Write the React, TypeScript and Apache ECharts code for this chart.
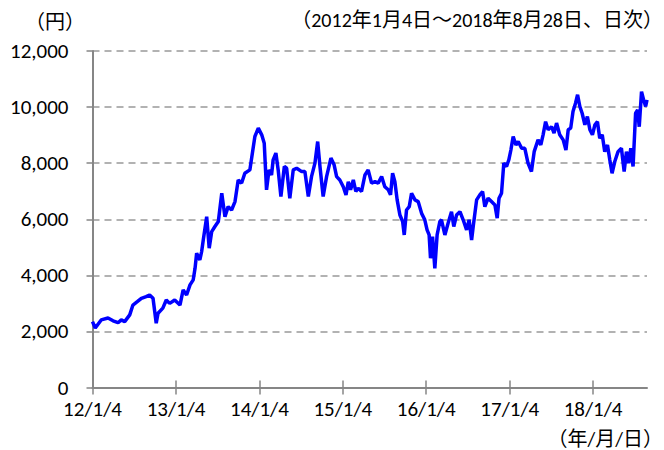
import React, { useEffect, useRef } from "react";
import * as echarts from "echarts";

const dates: string[] = [
  "2012-01-04","2012-01-16","2012-02-11","2012-03-12","2012-04-03","2012-04-25","2012-05-09","2012-05-24",
  "2012-06-15","2012-06-29","2012-07-18","2012-08-05","2012-08-26","2012-09-10","2012-09-25","2012-10-09",
  "2012-10-17","2012-11-07","2012-11-22","2012-12-07","2012-12-29",
  "2013-01-21","2013-02-04","2013-02-19","2013-03-06","2013-03-20","2013-03-28","2013-04-04","2013-04-18",
  "2013-04-26","2013-05-03","2013-05-18","2013-05-29","2013-06-09","2013-06-23","2013-07-08","2013-07-23",
  "2013-08-06","2013-08-20","2013-09-04","2013-09-19","2013-10-03","2013-10-18","2013-11-01","2013-11-23",
  "2013-12-15","2013-12-30",
  "2014-01-14","2014-01-25","2014-02-04","2014-02-15","2014-02-26","2014-03-05","2014-03-17","2014-03-27",
  "2014-04-08","2014-04-23","2014-05-03","2014-05-17","2014-06-01","2014-06-16","2014-07-08","2014-07-22",
  "2014-08-06","2014-08-20","2014-09-04","2014-09-16","2014-09-26","2014-10-10","2014-10-25","2014-11-13",
  "2014-11-27","2014-12-08","2014-12-22",
  "2015-01-06","2015-01-18","2015-01-28","2015-02-07","2015-02-19","2015-03-02","2015-03-12","2015-03-27",
  "2015-04-11","2015-04-25","2015-05-10","2015-05-25","2015-06-08","2015-06-23","2015-07-07","2015-07-22",
  "2015-08-01","2015-08-10","2015-08-20","2015-08-30","2015-09-11","2015-09-23","2015-09-30","2015-10-10",
  "2015-10-22","2015-11-01","2015-11-16","2015-11-30","2015-12-15","2015-12-29",
  "2016-01-08","2016-01-17","2016-01-23","2016-02-01","2016-02-11","2016-02-21","2016-03-04","2016-03-11",
  "2016-03-26","2016-04-09","2016-04-24","2016-05-04","2016-05-16","2016-05-31","2016-06-14","2016-06-29",
  "2016-07-10","2016-07-21","2016-07-28","2016-08-12","2016-08-26","2016-09-07","2016-09-17","2016-10-01",
  "2016-10-16","2016-10-31","2016-11-10","2016-11-18","2016-11-29","2016-12-09","2016-12-21","2016-12-31",
  "2017-01-09","2017-01-19","2017-01-31","2017-02-10","2017-02-25","2017-03-11","2017-03-25","2017-04-09",
  "2017-04-21","2017-05-08","2017-05-20","2017-05-30","2017-06-10","2017-06-21","2017-07-06","2017-07-17",
  "2017-07-28","2017-08-11","2017-08-26","2017-09-07","2017-09-17","2017-09-28","2017-10-08","2017-10-19",
  "2017-10-28","2017-11-07","2017-11-17","2017-11-29","2017-12-10","2017-12-21",
  "2018-01-01","2018-01-12","2018-01-23","2018-02-02","2018-02-13","2018-02-24","2018-03-08","2018-03-18",
  "2018-03-28","2018-04-09","2018-04-23","2018-05-08","2018-05-20","2018-05-30","2018-06-09","2018-06-18",
  "2018-06-28","2018-07-09","2018-07-18","2018-07-25","2018-08-04","2018-08-13","2018-08-22","2018-08-28",
];

const prices: number[] = [
  2350,2120,2410,2480,2380,2310,2410,2350,
  2590,2940,3060,3180,3240,3300,3180,2290,
  2650,2830,3120,3000,3120,
  2940,3480,3300,3660,3840,4250,4790,4550,
  4850,5260,6090,4970,5560,5740,5920,6930,
  6090,6450,6330,6630,7400,7290,7640,7760,
  8950,9250,
  9010,8710,7050,7760,7580,8120,8360,7760,
  6810,7880,7820,6750,7760,7820,7700,7700,
  6810,7520,8000,8770,7880,6810,7520,8180,
  7940,7520,7400,
  7160,6870,7340,7050,7400,6990,7110,6990,
  7580,7760,7290,7340,7290,7520,7160,7050,
  6870,7640,7340,6690,6150,5920,5440,6330,
  6450,6930,6690,6630,6210,5980,
  5620,5440,4610,5380,4250,5440,5920,5980,
  5440,5860,6270,5740,6150,6270,5980,5620,
  5980,5260,5740,6690,6870,6990,6450,6750,
  6630,6510,6040,6750,6930,8000,7880,8120,
  8470,8950,8650,8770,8530,8530,8000,7700,
  8410,8830,8650,9010,9480,9190,9300,9070,
  9430,9010,8830,8470,9190,9250,9840,10140,
  10440,10020,9780,9370,9660,9190,
  9010,9370,9480,8890,9010,8410,8650,8120,
  7640,8060,8410,8530,7700,8410,8000,8530,
  7880,9780,9900,9300,10550,10260,10020,10260,
];

const startDate = "2012-01-04";
const endDate = "2018-08-28";
const tickDates: string[] = ["2012-01-04","2013-01-04","2014-01-04","2015-01-04","2016-01-04","2017-01-04","2018-01-04"];
const tickLabels: string[] = ["12/1/4","13/1/4","14/1/4","15/1/4","16/1/4","17/1/4","18/1/4"];

const yMin = 0;
const yMax = 12000;
const yStep = 2000;

const unitLabel = "（円）";
const periodLabel = "（2012年1月4日～2018年8月28日、日次）";
const xUnitLabel = "（年/月/日）";

function dayOffset(s: string): number {
  const [y, m, d] = s.split("-").map(Number);
  const [y0, m0, d0] = startDate.split("-").map(Number);
  return Math.round((Date.UTC(y, m - 1, d) - Date.UTC(y0, m0 - 1, d0)) / 86400000);
}

const FONT = "Calibri, Carlito, 'Liberation Sans', 'Noto Sans CJK JP', sans-serif";
const CJK = "'Noto Sans CJK JP', sans-serif";

export default function App() {
  const ref = useRef<HTMLDivElement>(null);
  useEffect(() => {
    if (!ref.current) return;
    const chart = echarts.init(ref.current, undefined, { renderer: "svg" });
    const tickVals = tickDates.map(dayOffset);
    const data = dates.map((d, i) => [dayOffset(d), prices[i]]);
    const axisGray = "#868686";
    const baseX = {
      type: "value" as const,
      min: 0,
      max: dayOffset(endDate),
      position: "bottom" as const,
      splitLine: { show: false },
    };
    chart.setOption({
      animation: false,
      grid: { left: 92.5, right: 17, top: 51, bottom: 62.5, containLabel: false },
      xAxis: [
        {
          ...baseX,
          axisLine: { show: true, lineStyle: { color: axisGray, width: 2 } },
          axisTick: { show: true, customValues: tickVals, length: 7, lineStyle: { color: axisGray, width: 1.5 } },
          axisLabel: {
            show: true,
            customValues: tickVals,
            margin: 11,
            color: "#000",
            fontSize: 21,
            fontFamily: FONT,
            formatter: (v: number) => {
              const idx = tickVals.indexOf(Math.round(v));
              return idx >= 0 ? tickLabels[idx] : "";
            },
          },
        },
        {
          ...baseX,
          axisLine: { show: false },
          axisTick: { show: true, inside: true, customValues: tickVals, length: 7, lineStyle: { color: axisGray, width: 1.5 } },
          axisLabel: { show: false },
        },
      ],
      yAxis: {
        type: "value",
        min: yMin,
        max: yMax,
        interval: yStep,
        axisLine: { show: true, lineStyle: { color: axisGray, width: 2 } },
        axisTick: { show: true, length: 6, lineStyle: { color: axisGray, width: 1.5 } },
        axisLabel: {
          margin: 24,
          color: "#000",
          fontSize: 21,
          fontFamily: FONT,
          formatter: (v: number) => v.toLocaleString("en-US"),
        },
        splitLine: { show: true, lineStyle: { color: "#999999", width: 1.5, type: [7, 5] } },
      },
      series: [
        {
          type: "line",
          xAxisIndex: 0,
          data,
          showSymbol: false,
          symbol: "none",
          lineStyle: { color: "#0000FF", width: 3.5 },
          z: 3,
        },
      ],
      graphic: [
        {
          type: "text",
          x: 25,
          y: 20,
          style: { text: unitLabel, fontSize: 20, fontFamily: CJK, fill: "#000", textAlign: "left", textVerticalAlign: "middle" },
        },
        {
          type: "text",
          x: 663,
          y: 20,
          style: { text: periodLabel, fontSize: 20, fontFamily: FONT, fill: "#000", textAlign: "right", textVerticalAlign: "middle" },
        },
        {
          type: "text",
          x: 663,
          y: 439,
          style: { text: xUnitLabel, fontSize: 20, fontFamily: FONT, fill: "#000", textAlign: "right", textVerticalAlign: "middle" },
        },
      ],
    });
    return () => chart.dispose();
  }, []);
  return <div ref={ref} style={{ position: "fixed", left: 0, top: 0, width: 664, height: 450, background: "#fff" }} />;
}
